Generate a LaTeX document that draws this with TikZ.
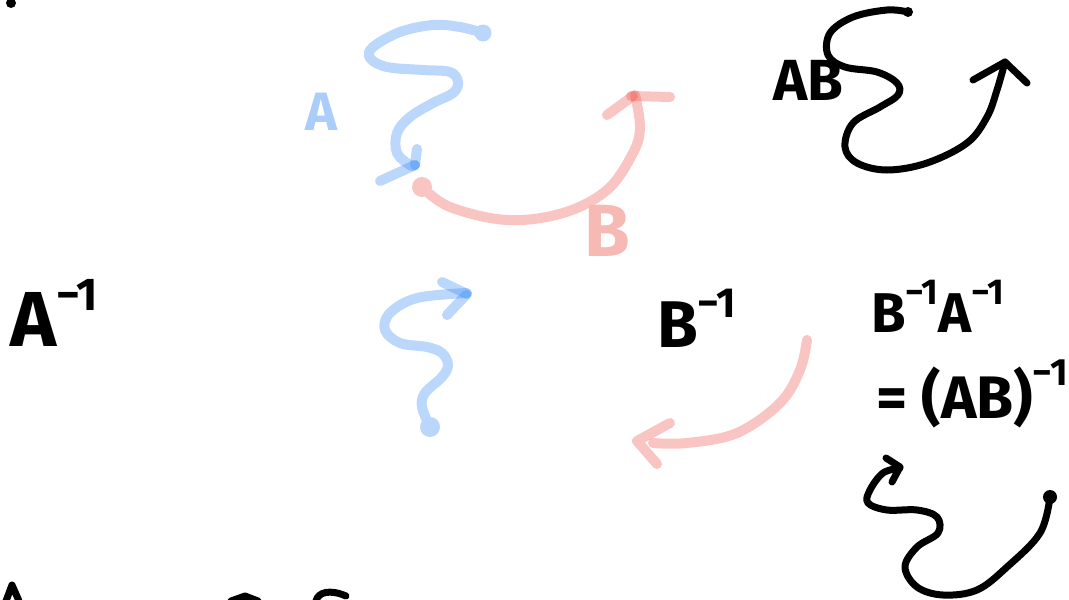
\documentclass[tikz,border=0pt]{standalone}
\usepackage{fontspec}
\setmainfont{Fira Sans}
\definecolor{bl}{RGB}{59,140,245}
\definecolor{rd}{RGB}{235,80,70}
\definecolor{bllight}{RGB}{186,215,251}
\definecolor{rdlight}{RGB}{248,197,194}
\definecolor{bltxt}{RGB}{170,205,250}
\definecolor{rdtxt}{RGB}{246,185,180}
\begin{document}
\begin{tikzpicture}[x=1pt,y=-1pt,
  bstroke/.style={draw=bl, line width=10pt, line cap=round, line join=round, opacity=0.35},
  rstroke/.style={draw=rd, line width=10pt, line cap=round, line join=round, opacity=0.33},
  kstroke/.style={draw=black, line width=7pt, line cap=round, line join=round},
  hw/.style={inner sep=0pt, font=\bfseries}]
\useasboundingbox (0,0) rectangle (1069,600);
% edge fragments
\fill (11,3) circle (5);
\draw[kstroke] (6,601) -- (12,585) -- (19,601);
\draw[kstroke] (231,601) -- (245,596) -- (258,601);
\draw[kstroke] (316,601) .. controls (318,592) and (330,589) .. (346,596);
% blue upper S arrow
\draw[bstroke] plot[smooth, tension=0.6] coordinates {(483,33) (460,27) (433,25) (400,32) (373,47) (370,58) (387,67) (423,70) (450,72) (458,82) (453,93) (433,103) (410,117) (397,133) (397,153) (410,165) (415,165)};
\draw[bstroke] (417,149) -- (415,165);
\draw[bstroke] (415,165) -- (380,181);
\coordinate (bdot) at (483,33);
\fill[bllight] (bdot) circle (8.5);
\node[hw, text=bltxt, anchor=base west, font=\bfseries\fontsize{54}{54}\selectfont] (Ab) at (305,130) {A};
% red lower arc
\draw[rstroke] plot[smooth, tension=0.6] coordinates {(422,187) (450,207) (507,220) (563,213) (607,190) (633,153) (640,127) (635,95)};
\draw[rstroke] (607,115) -- (633,96);
\draw[rstroke] (631,96) -- (670,97);
\coordinate (rdot) at (422,187);
\fill[rdlight] (rdot) circle (10);
\node[hw, text=rdtxt, anchor=base west, font=\bfseries\fontsize{74}{74}\selectfont] (Br) at (584,256) {B};
% top right AB
\node[hw, anchor=base west, font=\bfseries\fontsize{58}{58}\selectfont] (AB) at (773,100) {AB};
\draw[kstroke] plot[smooth, tension=0.6] coordinates {(908,12) (887,10) (853,17) (830,33) (828,55) (845,67) (877,72) (897,83) (898,95) (880,107) (853,123) (845,147) (857,163) (887,170) (927,163) (967,143) (987,117) (997,90) (1005,62)};
\fill (908,12) circle (5);
\draw[kstroke] (973,80) -- (1005,62) -- (1027,83);
% A^-1
\node[hw, anchor=base west, font=\bfseries\fontsize{78}{78}\selectfont] (Ainv) at (10,346) {A\raisebox{0.45em}{\fontsize{46}{46}\selectfont −1}};
% blue lower arrow
\draw[bstroke] plot[smooth, tension=0.6] coordinates {(430,427) (422,407) (425,393) (442,377) (448,365) (442,353) (427,347) (400,343) (385,330) (390,313) (417,298) (467,293)};
\draw[bstroke] (442,282) -- (467,294);
\draw[bstroke] (466,295) -- (447,315);
\coordinate (bdot2) at (430,427);
\fill[bllight] (bdot2) circle (10);
% B^-1
\node[hw, anchor=base west, font=\bfseries\fontsize{66}{66}\selectfont] (Binv) at (657,347) {B\raisebox{0.45em}{\fontsize{42}{42}\selectfont −1}};
% red lower arrow
\draw[rstroke] plot[smooth, tension=0.6] coordinates {(807,340) (800,370) (780,403) (737,433) (687,443) (653,443)};
\draw[rstroke] (670,423) -- (637,441) -- (657,464);
% B^-1 A^-1 = (AB)^-1
\node[hw, anchor=base west, font=\bfseries\fontsize{56}{56}\selectfont] (BA) at (871,332) {B\raisebox{0.5em}{\fontsize{36}{36}\selectfont −1}A\raisebox{0.5em}{\fontsize{36}{36}\selectfont −1}};
\node[hw, anchor=base west, font=\bfseries\fontsize{60}{60}\selectfont] (ABinv) at (876,418) {= (AB)\raisebox{0.55em}{\fontsize{38}{38}\selectfont −1}};
% bottom right curve
\draw[kstroke] plot[smooth, tension=0.6] coordinates {(1050,497) (1040,533) (1007,567) (977,590) (943,595) (917,587) (905,567) (917,547) (938,533) (937,517) (917,510) (887,510) (868,503) (870,490) (883,473) (900,468)};
\fill (1050,497) circle (7);
\draw[kstroke] (886,458) -- (900,467) -- (892,482);
\end{tikzpicture}
\end{document}
